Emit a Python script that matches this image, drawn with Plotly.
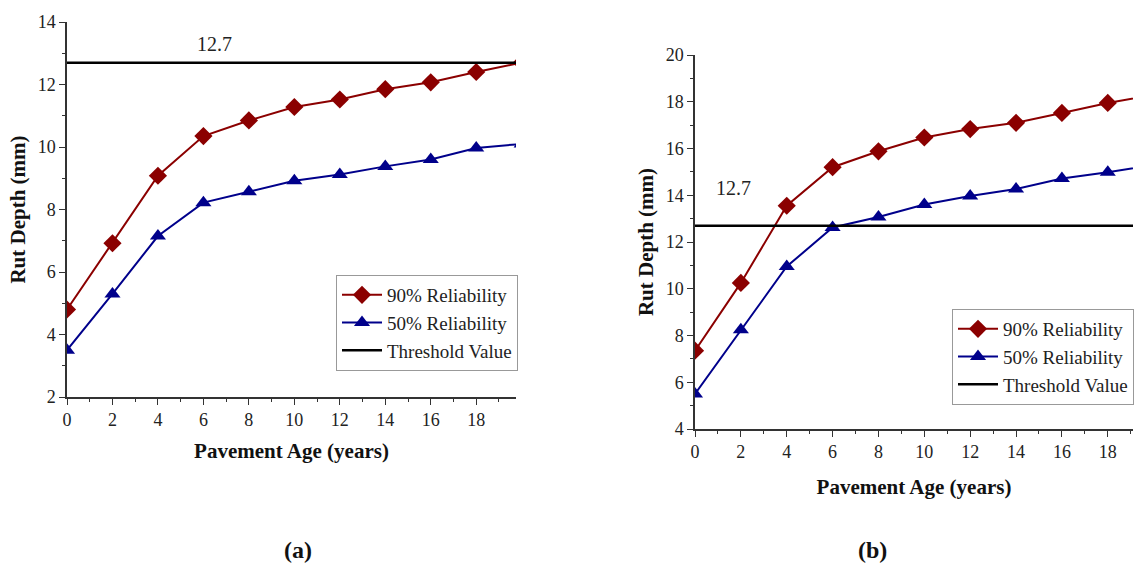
import plotly.graph_objects as go

# ---------------- data ----------------
age = [0, 2, 4, 6, 8, 10, 12, 14, 16, 18, 20]

a_rel90 = [4.8, 6.92, 9.08, 10.35, 10.85, 11.28, 11.52, 11.85, 12.07, 12.4, 12.7]
a_rel50 = [3.5, 5.3, 7.15, 8.22, 8.57, 8.92, 9.12, 9.38, 9.6, 9.97, 10.1]

b_rel90 = [7.35, 10.25, 13.55, 15.2, 15.88, 16.47, 16.83, 17.1, 17.52, 17.95, 18.3]
b_rel50 = [5.5, 8.25, 10.95, 12.62, 13.07, 13.6, 13.97, 14.27, 14.72, 14.98, 15.3]

threshold = 12.7
threshold_x = [0, 20]
legend_names = ["90% Reliability", "50% Reliability", "Threshold Value"]
x_title = "Pavement Age (years)"
y_title = "Rut Depth (mm)"
captions = ["(a)", "(b)"]

# ---------------- style ----------------
RED = "#8B0000"
BLUE = "#00008B"
FONT = "Liberation Serif"
W, H = 1137, 564

fig = go.Figure()

def add_panel(xa, ya, leg, r90, r50):
    fig.add_trace(go.Scatter(
        x=age, y=r90, name=legend_names[0], mode="lines+markers",
        line=dict(color=RED, width=2),
        marker=dict(symbol="diamond", size=14, color=RED),
        xaxis=xa, yaxis=ya, legend=leg))
    fig.add_trace(go.Scatter(
        x=age, y=r50, name=legend_names[1], mode="lines+markers",
        line=dict(color=BLUE, width=2),
        marker=dict(symbol="triangle-up", size=14, color=BLUE),
        xaxis=xa, yaxis=ya, legend=leg))
    fig.add_trace(go.Scatter(
        x=threshold_x, y=[threshold, threshold], name=legend_names[2],
        mode="lines", line=dict(color="black", width=2.5),
        xaxis=xa, yaxis=ya, legend=leg))

add_panel("x", "y", "legend", a_rel90, a_rel50)
add_panel("x2", "y2", "legend2", b_rel90, b_rel50)

def px_x(p):
    return p / W

def px_y(p):
    return 1 - p / H

tickfont = dict(family=FONT, size=18, color="#222")
titlefont = dict(family=FONT, size=21, color="#111", weight="bold")

def axis_common():
    return dict(
        showline=True, linecolor="#333", linewidth=1.5,
        ticks="outside", ticklen=6, tickwidth=1.3, tickcolor="#333",
        minor=dict(ticks="outside", ticklen=3, tickwidth=1, tickcolor="#333", dtick=1),
        showgrid=False, zeroline=False, tickfont=tickfont,
        automargin=False, mirror=False,
    )

fig.update_layout(
    xaxis=dict(**axis_common(), domain=[px_x(67), px_x(516)], range=[0, 19.75],
               dtick=2, tick0=0, anchor="y",
               title=dict(text=x_title, font=titlefont, standoff=14)),
    yaxis=dict(**axis_common(), domain=[px_y(397), px_y(22)], range=[2, 14],
               dtick=2, tick0=0, anchor="x",
               title=dict(text=y_title, font=titlefont, standoff=6)),
    xaxis2=dict(**axis_common(), domain=[px_x(695), px_x(1133)], range=[0, 19.1],
                dtick=2, tick0=0, anchor="y2",
                title=dict(text=x_title, font=titlefont, standoff=18)),
    yaxis2=dict(**axis_common(), domain=[px_y(429), px_y(55)], range=[4, 20],
                dtick=2, tick0=0, anchor="x2",
                title=dict(text=y_title, font=titlefont, standoff=6)),
)

legend_style = dict(
    bgcolor="white", bordercolor="#999", borderwidth=1,
    font=dict(family=FONT, size=19, color="#222"),
    xanchor="left", yanchor="top", tracegroupgap=0, itemwidth=40,
)
fig.update_layout(
    legend=dict(**legend_style, x=px_x(336), y=px_y(275)),
    legend2=dict(**legend_style, x=px_x(952), y=px_y(309)),
)

# threshold labels
fig.add_annotation(x=6.5, y=13.3, xref="x", yref="y", text="12.7", showarrow=False,
                   font=dict(family=FONT, size=20, color="#222"))
fig.add_annotation(x=1.7, y=14.3, xref="x2", yref="y2", text="12.7", showarrow=False,
                   font=dict(family=FONT, size=20, color="#222"))

# captions
for cap, cx in zip(captions, [298, 872]):
    fig.add_annotation(x=px_x(cx), y=px_y(550), xref="paper", yref="paper", text=cap,
                       xanchor="center", yanchor="middle", showarrow=False,
                       font=dict(family=FONT, size=24, color="#111", weight="bold"))

fig.update_layout(
    template="none",
    width=W, height=H, autosize=False,
    margin=dict(l=0, r=0, t=0, b=0, pad=0, autoexpand=False),
    paper_bgcolor="white", plot_bgcolor="white",
)

fig.write_html("out.html")
